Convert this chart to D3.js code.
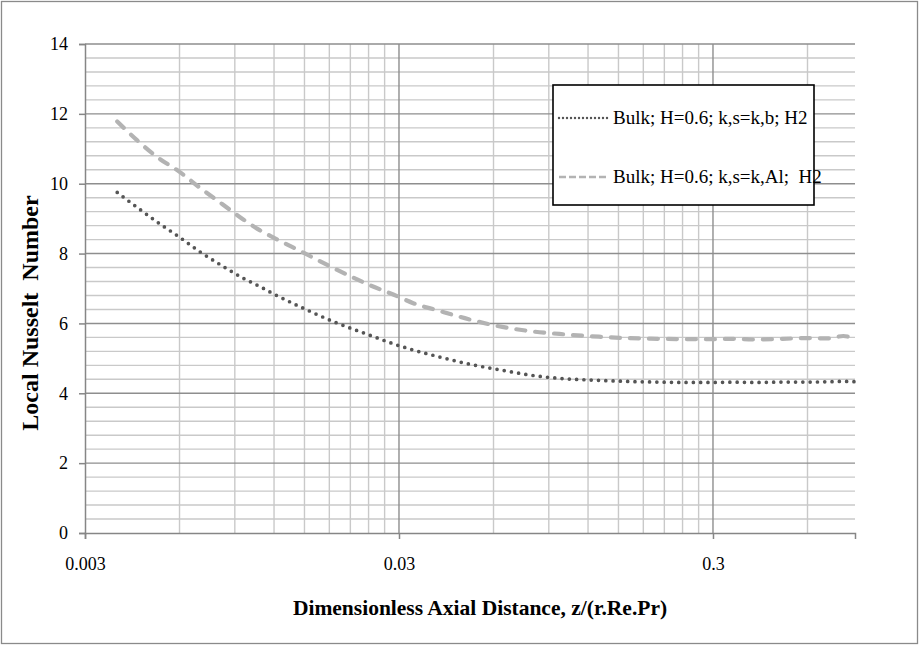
<!DOCTYPE html>
<html><head><meta charset="utf-8">
<script src="https://cdn.jsdelivr.net/npm/d3@7/dist/d3.min.js"></script>
<style>
body{margin:0;background:#fff}
svg{display:block}
text{font-family:"Liberation Serif","Times New Roman",serif;fill:#000}
</style>
</head><body>
<svg id="chart" width="920" height="646"></svg>
<script>
// ---- data ----
const xValues = [0.0038,0.0044,0.0051,0.006,0.007,0.0082,0.0096,0.0108,0.012,0.015,0.0187,0.0236,0.0296,0.0333,0.0396,0.05,0.064,0.08,0.1,0.13,0.16,0.2,0.25,0.3,0.35,0.4,0.5,0.6,0.7,0.78,0.85];
const nuBulkKb  = [9.75,9.32,8.90,8.47,8.04,7.65,7.29,7.06,6.84,6.42,6.04,5.70,5.38,5.24,5.06,4.84,4.66,4.51,4.42,4.37,4.34,4.32,4.31,4.31,4.32,4.31,4.32,4.32,4.33,4.34,4.33];
const nuBulkKal = [11.78,11.24,10.76,10.34,9.87,9.42,8.97,8.67,8.45,8.01,7.57,7.14,6.78,6.58,6.38,6.12,5.90,5.77,5.69,5.62,5.58,5.56,5.55,5.55,5.56,5.54,5.56,5.58,5.57,5.64,5.55];
const seriesNames = ["Bulk; H=0.6; k,s=k,b; H2", "Bulk; H=0.6; k,s=k,Al;  H2"];
const xDomain = [0.003, 0.85];
const yDomain = [0, 14];
const xTickValues = [0.003, 0.03, 0.3];
const xTickLabels = ["0.003", "0.03", "0.3"];
const yTickValues = [0, 2, 4, 6, 8, 10, 12, 14];
const xTitle = "Dimensionless Axial Distance, z/(r.Re.Pr)";
const yTitle = "Local Nusselt  Number";

// ---- layout ----
const W = 920, H = 646;
const m = {left: 85, right: 65, top: 44, bottom: 113};
const svg = d3.select("#chart");
svg.append("rect").attr("x",1.5).attr("y",1.5).attr("width",W-4).attr("height",H-4)
  .attr("fill","#fff").attr("stroke","#8a8a8a").attr("stroke-width",1.3);

const x = d3.scaleLog().domain(xDomain).range([m.left, W - m.right]);
const y = d3.scaleLinear().domain(yDomain).range([H - m.bottom, m.top]);

const g = svg.append("g");

// minor horizontal gridlines
const yMinor = d3.range(0, 14.001, 0.4).filter(v => Math.abs(v/2 - Math.round(v/2)) > 1e-6);
g.selectAll(".hmin").data(yMinor).join("line")
  .attr("x1", x.range()[0]).attr("x2", x.range()[1])
  .attr("y1", d => y(d)).attr("y2", d => y(d))
  .attr("stroke", "#c9c9c9").attr("stroke-width", 1.4);

// minor vertical gridlines
const xMinor = [];
xTickValues.forEach(d0 => { for (let k = 2; k <= 9; k++) { const v = d0 * k; if (v < xDomain[1]) xMinor.push(v); } });
g.selectAll(".vmin").data(xMinor).join("line")
  .attr("x1", d => x(d)).attr("x2", d => x(d))
  .attr("y1", y.range()[0]).attr("y2", y.range()[1])
  .attr("stroke", "#c9c9c9").attr("stroke-width", 1.4);

// major horizontal gridlines
g.selectAll(".hmaj").data(yTickValues.filter(v => v > 0)).join("line")
  .attr("x1", x.range()[0]).attr("x2", x.range()[1])
  .attr("y1", d => y(d)).attr("y2", d => y(d))
  .attr("stroke", "#8e8e8e").attr("stroke-width", 1.4);

// major vertical gridlines
g.selectAll(".vmaj").data(xTickValues.filter(v => v > xDomain[0])).join("line")
  .attr("x1", d => x(d)).attr("x2", d => x(d))
  .attr("y1", y.range()[0]).attr("y2", y.range()[1])
  .attr("stroke", "#8e8e8e").attr("stroke-width", 1.4);

// axes
const yAxis = d3.axisLeft(y).tickValues(yTickValues).tickSize(6).tickPadding(11).tickFormat(d3.format("d"));
const yA = svg.append("g").attr("transform", `translate(${m.left},0)`).call(yAxis)
  .attr("font-family", null).attr("font-size", null);
yA.select(".domain").attr("stroke", "#868686").attr("stroke-width", 1.5);
yA.selectAll(".tick line").attr("stroke", "#868686").attr("stroke-width", 1.5);
yA.selectAll(".tick text").style("font-size", "18px").style("font-family", "'Liberation Serif', serif").style("fill", "#000");

const xAxis = d3.axisBottom(x).tickValues(xTickValues).tickSize(6).tickPadding(18)
  .tickFormat((d, i) => xTickLabels[i]);
const xA = svg.append("g").attr("transform", `translate(0,${H - m.bottom})`).call(xAxis)
  .attr("font-family", null).attr("font-size", null);
xA.select(".domain").attr("stroke", "#868686").attr("stroke-width", 1.5);
xA.selectAll(".tick line").attr("stroke", "#868686").attr("stroke-width", 1.5);
xA.selectAll(".tick text").style("font-size", "18px").style("font-family", "'Liberation Serif', serif").style("fill", "#000");

// series
const pts1 = xValues.map((v, i) => [v, nuBulkKb[i]]);
const pts2 = xValues.map((v, i) => [v, nuBulkKal[i]]);
const line = d3.line().x(d => x(d[0])).y(d => y(d[1])).curve(d3.curveMonotoneX);

svg.append("path").datum(pts2).attr("d", line).attr("fill", "none")
  .attr("stroke", "#b3b3b3").attr("stroke-width", 4.2)
  .attr("stroke-linecap", "round").attr("stroke-dasharray", "9 10");
svg.append("path").datum(pts1).attr("d", line).attr("fill", "none")
  .attr("stroke", "#555555").attr("stroke-width", 3.7)
  .attr("stroke-linecap", "round").attr("stroke-dasharray", "0 7.3");

// legend
const lg = svg.append("g");
lg.append("rect").attr("x", 553).attr("y", 85).attr("width", 261).attr("height", 120)
  .attr("fill", "#fff").attr("stroke", "#000").attr("stroke-width", 1.6);
const legendItems = [
  {name: seriesNames[0], color: "#555555", width: 2.4, dash: "0 4", cap: "round", cy: 118},
  {name: seriesNames[1], color: "#b3b3b3", width: 2.6, dash: "7 3", cap: "butt", cy: 177}
];
legendItems.forEach(it => {
  lg.append("line").attr("x1", 559).attr("x2", 609).attr("y1", it.cy).attr("y2", it.cy)
    .attr("stroke", it.color).attr("stroke-width", it.width)
    .attr("stroke-dasharray", it.dash).attr("stroke-linecap", it.cap);
  lg.append("text").attr("x", 613).attr("y", it.cy + 6).style("font-size", "19px")
    .style("white-space", "pre").text(it.name);
});

// titles
svg.append("text").attr("x", 480).attr("y", 615).attr("text-anchor", "middle")
  .style("font-size", "21.5px").style("font-weight", "bold").text(xTitle);
svg.append("text").attr("transform", "translate(38,313) rotate(-90)").attr("text-anchor", "middle")
  .style("font-size", "24px").style("font-weight", "bold").style("white-space", "pre").text(yTitle);
</script>
</body></html>
